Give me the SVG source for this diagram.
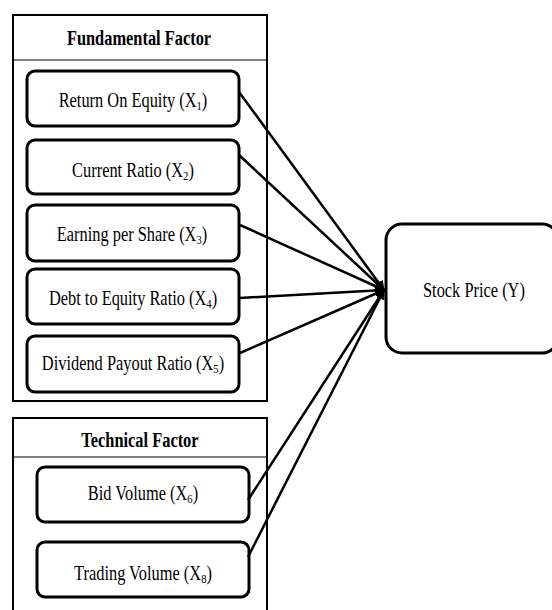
<svg xmlns="http://www.w3.org/2000/svg" width="552" height="610" viewBox="0 0 552 610">
<style>
.grp{fill:none;stroke:#000;stroke-width:2}
.div{stroke:#000;stroke-width:1}
.node{fill:#fff;stroke:#000;stroke-width:3}
.t{font-family:"Liberation Serif","Times New Roman",serif;font-size:20px;fill:#000;text-anchor:middle}
.h{font-weight:bold}
.sub{font-size:13px}
.c{stroke:#000;stroke-width:2.5;fill:none;marker-end:url(#ah)}
</style>
<defs>
<marker id="ah" viewBox="0 0 10 10" refX="9" refY="5" markerWidth="4" markerHeight="4" orient="auto" markerUnits="strokeWidth">
<path d="M0,0 L10,5 L0,10 z" fill="#000"/>
</marker>
</defs>
<g id="fundamental">
<rect class="grp" x="13" y="15" width="254" height="386"/>
<line class="div" x1="13" y1="60" x2="267" y2="60"/>
<text class="t h" transform="scale(0.82,1)" x="169.5" y="45">Fundamental Factor</text>
</g>
<g id="technical">
<path class="grp" d="M13,610 V418 H267 V610"/>
<line class="div" x1="13" y1="457" x2="267" y2="457"/>
<text class="t h" transform="scale(0.82,1)" x="170.7" y="447">Technical Factor</text>
</g>
<g id="x1">
<rect class="node" x="27" y="71" width="212" height="55" rx="8"/>
<text class="t" transform="scale(0.82,1)" x="162.2" y="107">Return On Equity (X<tspan class="sub" dy="3">1</tspan><tspan dy="-3">)</tspan></text>
</g>
<g id="x2">
<rect class="node" x="27" y="140" width="212" height="54" rx="8"/>
<text class="t" transform="scale(0.82,1)" x="162.2" y="177">Current Ratio (X<tspan class="sub" dy="3">2</tspan><tspan dy="-3">)</tspan></text>
</g>
<g id="x3">
<rect class="node" x="27" y="205" width="212" height="56" rx="8"/>
<text class="t" transform="scale(0.82,1)" x="161.0" y="241">Earning per Share (X<tspan class="sub" dy="3">3</tspan><tspan dy="-3">)</tspan></text>
</g>
<g id="x4">
<rect class="node" x="27" y="269" width="212" height="55" rx="8"/>
<text class="t" transform="scale(0.82,1)" x="162.2" y="305">Debt to Equity Ratio (X<tspan class="sub" dy="3">4</tspan><tspan dy="-3">)</tspan></text>
</g>
<g id="x5">
<rect class="node" x="27" y="336" width="212" height="56" rx="8"/>
<text class="t" transform="scale(0.82,1)" x="162.2" y="370">Dividend Payout Ratio (X<tspan class="sub" dy="3">5</tspan><tspan dy="-3">)</tspan></text>
</g>
<g id="x6">
<rect class="node" x="37" y="467" width="212" height="55" rx="8"/>
<text class="t" transform="scale(0.82,1)" x="174.4" y="500">Bid Volume (X<tspan class="sub" dy="3">6</tspan><tspan dy="-3">)</tspan></text>
</g>
<g id="x8">
<rect class="node" x="37" y="542" width="212" height="55" rx="8"/>
<text class="t" transform="scale(0.82,1)" x="174.4" y="580">Trading Volume (X<tspan class="sub" dy="3">8</tspan><tspan dy="-3">)</tspan></text>
</g>
<g id="y">
<rect class="node" x="386" y="224" width="172" height="129" rx="16"/>
<text class="t" transform="scale(0.82,1)" x="578" y="297">Stock Price (Y)</text>
</g>
<g id="connectors">
<line class="c" x1="239" y1="92" x2="384" y2="290"/>
<line class="c" x1="239" y1="155" x2="384" y2="290"/>
<line class="c" x1="240" y1="225" x2="384" y2="290"/>
<line class="c" x1="240" y1="298" x2="384" y2="290"/>
<line class="c" x1="240" y1="353" x2="384" y2="290"/>
<line class="c" x1="248" y1="500" x2="384" y2="290"/>
<line class="c" x1="248" y1="557" x2="384" y2="290"/>
</g>
</svg>
